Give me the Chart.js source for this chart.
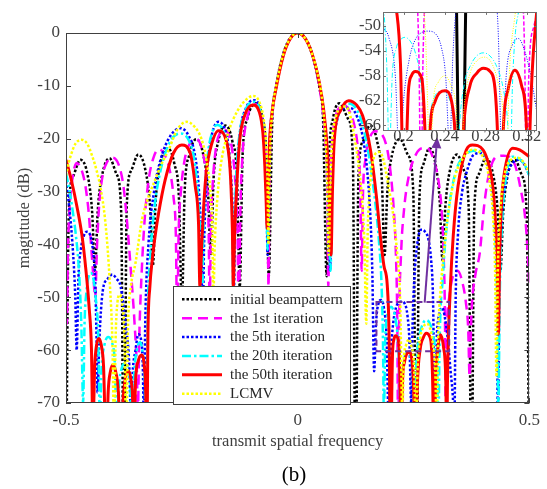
<!DOCTYPE html>
<html><head><meta charset="utf-8">
<script src="https://cdn.jsdelivr.net/npm/chart.js@4.4.0/dist/chart.umd.min.js"></script>
<style>
html,body{margin:0;padding:0;background:#fff;}
#wrap{position:relative;width:547px;height:489px;overflow:hidden;}
#main{position:absolute;left:0;top:0;width:547px;height:489px;}
#inset{position:absolute;left:320px;top:0;width:227px;height:160px;}
</style></head><body>
<div id="wrap">
<canvas id="main" width="547" height="489"></canvas>
<canvas id="inset" width="227" height="160"></canvas>
</div>
<script>
// ---------------- data (x = transmit spatial frequency, y = dB) ----------------
const seriesNames = ["initial beampattern","the 1st iteration","the 5th iteration","the 20th iteration","the 50th iteration","LCMV"];
const xTicks = [-0.5, 0, 0.5];
const yTicks = [0, -10, -20, -30, -40, -50, -60, -70];
const insetXTicks = [0.2, 0.24, 0.28, 0.32];
const insetYTicks = [-50, -54, -58, -62, -66];
const zoomBoxX = [0.170, 0.327];
const zoomBoxY = [-50.9, -60.2];
const arrowFrom = [0.274, -51.0];
const arrowTo = [0.301, -19.7];

const initialPattern = [
[-0.5,-90],[-0.494,-34],[-0.484,-27],[-0.469,-24],[-0.453,-27],[-0.4435,-34],
[-0.4375,-45],[-0.4315,-33.7],[-0.4215,-26.7],[-0.406,-23.7],[-0.391,-26.7],[-0.381,-33.7],
[-0.375,-90],[-0.369,-33],[-0.359,-26],[-0.344,-23],[-0.3285,-26],[-0.3185,-33],
[-0.3125,-44],[-0.3065,-31.8],[-0.2965,-24.8],[-0.281,-21.8],[-0.266,-24.8],[-0.256,-31.8],
[-0.25,-52],[-0.244,-30.1],[-0.234,-23.1],[-0.219,-20.1],[-0.2035,-23.1],[-0.1935,-30.1],
[-0.1875,-42],[-0.1815,-27.5],[-0.1715,-20.5],[-0.156,-17.5],[-0.141,-20.5],[-0.131,-27.5],
[-0.125,-48],[-0.119,-23.3],[-0.109,-16.3],[-0.09,-13.3],[-0.076,-16.3],[-0.068,-23.3],
[-0.0625,-46],[-0.055,-17],[-0.047,-10.4],[-0.031,-3.9],[-0.016,-0.9],[0,0],[0.016,-0.9],[0.031,-3.9],[0.047,-10.4],[0.055,-17],
[0.0625,-46],[0.068,-23.3],[0.076,-16.3],[0.09,-13.3],[0.109,-16.3],[0.119,-23.3],
[0.125,-90],[0.131,-27.5],[0.141,-20.5],[0.156,-17.5],[0.1715,-20.5],[0.1815,-27.5],
[0.1875,-42],[0.1935,-30.1],[0.2035,-23.1],[0.221,-20.1],[0.238,-23.1],[0.2495,-30.1],
[0.256,-90],[0.2625,-31.8],[0.2715,-24.8],[0.284,-21.8],[0.2975,-24.8],[0.3065,-31.8],
[0.3125,-43],[0.3185,-33],[0.3285,-26],[0.344,-23],[0.359,-26],[0.369,-33],
[0.375,-90],[0.381,-33.7],[0.391,-26.7],[0.406,-23.7],[0.4215,-26.7],[0.4315,-33.7],
[0.4375,-45],[0.4435,-34],[0.453,-27],[0.469,-24],[0.484,-27],[0.494,-34],[0.5,-90]
];

const firstIter = [
[-0.5,-42],[-0.498,-55],[-0.496,-42],[-0.492,-33],[-0.486,-27.5],[-0.477,-24.6],[-0.466,-26],[-0.458,-29],[-0.451,-34],[-0.446,-40],[-0.441,-46],[-0.437,-50],
[-0.433,-40],[-0.428,-32],[-0.421,-27],[-0.412,-24.5],[-0.400,-23.6],[-0.386,-25],[-0.376,-29],[-0.368,-36],[-0.360,-45],[-0.352,-55],[-0.347,-64],[-0.345,-72],
[-0.342,-58],[-0.336,-44],[-0.330,-35],[-0.322,-28],[-0.312,-23.8],[-0.300,-22],[-0.287,-23],[-0.276,-26],[-0.268,-31],[-0.263,-38],[-0.260,-55],
[-0.257,-38],[-0.252,-30],[-0.244,-24],[-0.232,-20.8],[-0.220,-20],[-0.208,-21.5],[-0.200,-25],[-0.195,-30],[-0.192,-38],[-0.190,-52],
[-0.187,-36],[-0.183,-28],[-0.176,-21.5],[-0.167,-18.8],[-0.158,-18.3],[-0.148,-19.5],[-0.140,-23],[-0.134,-29],[-0.130,-37],[-0.127,-55],
[-0.124,-35],[-0.119,-23],[-0.110,-16.5],[-0.098,-13.8],[-0.090,-13.5],[-0.081,-14.8],[-0.073,-18.5],[-0.068,-24],[-0.065,-32],[-0.063,-48],
[-0.061,-28],[-0.058,-19.5],[-0.054,-14.5],[-0.046,-10],[-0.031,-4.1],[-0.016,-1],[0,0],[0.016,-1],[0.031,-4],[0.046,-9.8],[0.055,-15.5],[0.060,-21],[0.064,-30],[0.066,-48],
[0.069,-30],[0.074,-21],[0.082,-15.8],[0.093,-13.8],[0.100,-13.6],[0.110,-14.5],[0.121,-17],[0.130,-22],[0.135,-29],[0.138,-45],
[0.141,-30],[0.146,-24],[0.155,-20],[0.168,-18.6],[0.180,-19],[0.192,-21.5],[0.200,-26],[0.207,-33],[0.212,-42],[0.215,-55],[0.217,-80],
[0.219,-55],[0.223,-42],[0.230,-33],[0.240,-27],[0.255,-23],[0.270,-21.8],[0.283,-22],[0.295,-24.5],[0.304,-28],[0.311,-34],[0.315,-42],[0.318,-55],[0.320,-80],
[0.322,-58],[0.327,-50],[0.335,-46],[0.345,-45],[0.355,-47],[0.363,-51],[0.368,-56],[0.371,-65],
[0.375,-53],[0.383,-46],[0.393,-41.6],[0.402,-33],[0.412,-27],[0.429,-23.4],[0.445,-23.2],[0.464,-24],[0.480,-29],[0.493,-37],[0.5,-48]
];

const fifthIter = [
[-0.5,-28],[-0.493,-33],[-0.486,-40],[-0.480,-50],[-0.477,-60],
[-0.473,-46],[-0.468,-41],[-0.462,-38.5],[-0.455,-37.6],[-0.448,-38.2],[-0.442,-41],[-0.437,-47],[-0.434,-58],[-0.432,-68],
[-0.428,-58],[-0.421,-49],[-0.410,-46.5],[-0.400,-45.7],[-0.391,-46.5],[-0.382,-48],[-0.371,-55.5],[-0.364,-61.8],[-0.360,-72],
[-0.356,-64],[-0.350,-60],[-0.344,-57],[-0.338,-58],[-0.334,-64],[-0.332,-75],
[-0.329,-55],[-0.322,-40],[-0.310,-30],[-0.296,-24],[-0.275,-19.5],[-0.253,-18],[-0.235,-19.5],[-0.222,-23],[-0.213,-30],[-0.208,-40],[-0.205,-55],
[-0.202,-40],[-0.198,-30],[-0.192,-23],[-0.184,-18.8],[-0.171,-16.8],[-0.158,-18],[-0.150,-21],[-0.144,-27],[-0.140,-36],[-0.138,-50],
[-0.135,-36],[-0.131,-26],[-0.124,-18.5],[-0.113,-14.5],[-0.096,-12.7],[-0.082,-14],[-0.074,-18],[-0.070,-24],[-0.067,-32],[-0.065,-42],
[-0.063,-30],[-0.060,-20],[-0.055,-14.8],[-0.046,-9.8],[-0.031,-4],[-0.016,-1],[0,0],[0.016,-1],[0.031,-4],[0.047,-9.8],[0.056,-15],[0.062,-21],[0.066,-30],[0.070,-45],
[0.073,-32],[0.077,-22],[0.085,-16.5],[0.097,-14.3],[0.114,-14.2],[0.128,-15.8],[0.140,-19.5],[0.150,-26],[0.157,-35],[0.161,-45],[0.165,-64],
[0.169,-55],[0.175,-51],[0.180,-50.5],[0.186,-52],[0.192,-58],[0.196,-72],
[0.200,-62],[0.206,-55],[0.212,-52],[0.218,-51],[0.224,-50.8],[0.231,-51.2],[0.237,-53.5],[0.241,-58],[0.245,-70],
[0.248,-55],[0.252,-46],[0.258,-40],[0.266,-37.2],[0.274,-37.5],[0.282,-39],[0.288,-43],[0.292,-50],[0.296,-72],
[0.300,-58],[0.306,-53],[0.312,-52],[0.318,-54],[0.324,-58],[0.330,-64],[0.335,-69],[0.338,-75],
[0.341,-50],[0.346,-38],[0.355,-30],[0.364,-26.5],[0.380,-23],[0.395,-22.7],[0.408,-24.5],[0.418,-29],[0.425,-37],[0.430,-50],[0.432,-75],
[0.435,-50],[0.440,-36],[0.450,-28],[0.465,-24.5],[0.478,-24],[0.490,-25],[0.5,-27]
];

const twentiethIter = [
[-0.5,-26.5],[-0.492,-30],[-0.485,-34],[-0.479,-38],[-0.472,-45],[-0.467,-55],[-0.463,-70],
[-0.460,-55],[-0.456,-49],[-0.451,-46],[-0.446,-45.4],[-0.441,-46.5],[-0.436,-50],[-0.431,-56],[-0.427,-72],
[-0.423,-63],[-0.417,-59],[-0.409,-57.5],[-0.401,-58.5],[-0.395,-62],[-0.390,-75],
[-0.386,-67],[-0.380,-63.5],[-0.373,-62.5],[-0.366,-63.5],[-0.361,-67],[-0.357,-78],
[-0.353,-65],[-0.347,-60],[-0.340,-58.5],[-0.334,-61],[-0.330,-66],[-0.327,-80],
[-0.324,-55],[-0.318,-42],[-0.309,-33],[-0.296,-26],[-0.275,-20.5],[-0.252,-19],[-0.234,-20.5],[-0.223,-24],[-0.215,-31],[-0.210,-40],[-0.207,-58],
[-0.204,-40],[-0.200,-30],[-0.194,-23],[-0.186,-19.2],[-0.174,-17.4],[-0.160,-18.5],[-0.151,-21.5],[-0.145,-27],[-0.141,-36],[-0.139,-50],
[-0.136,-36],[-0.132,-26],[-0.125,-18.8],[-0.114,-14.8],[-0.096,-13],[-0.082,-14.3],[-0.074,-18.5],[-0.070,-25],[-0.067,-33],[-0.065,-41],
[-0.063,-30],[-0.060,-20.5],[-0.055,-15],[-0.046,-10],[-0.031,-4.1],[-0.016,-1],[0,0],[0.016,-1],[0.031,-4],[0.047,-9.6],[0.056,-14.8],[0.062,-21],[0.067,-31],[0.071,-45],
[0.074,-31],[0.078,-21],[0.088,-15.5],[0.100,-13.8],[0.113,-13.4],[0.128,-14.6],[0.142,-18],[0.155,-24],[0.166,-31],[0.175,-39],[0.181,-47.7],[0.184,-58],[0.186,-72],
[0.189,-58],[0.193,-53.5],[0.197,-52.2],[0.2014,-51.8],[0.206,-52.3],[0.211,-54],[0.216,-58],[0.220,-66],[0.222,-76],
[0.225,-66],[0.230,-61.5],[0.237,-60.5],[0.244,-61.5],[0.249,-66],[0.2518,-76],
[0.2545,-66],[0.2595,-59],[0.2647,-56.5],[0.2712,-54.8],[0.2777,-54.3],[0.2842,-54.8],[0.2907,-56.5],[0.297,-60],[0.3015,-66],[0.3037,-76],
[0.306,-60],[0.309,-51],[0.312,-47.7],[0.318,-40],[0.328,-32],[0.342,-26],[0.360,-23.2],[0.380,-22.3],[0.396,-22.4],[0.410,-24.5],[0.420,-29],[0.427,-40],[0.431,-55],[0.433,-72],
[0.436,-50],[0.441,-36],[0.450,-27],[0.464,-23.4],[0.478,-23.8],[0.490,-25],[0.5,-27]
];

const fiftiethIter = [
[-0.5,-24],[-0.488,-28],[-0.476,-33],[-0.466,-38],[-0.458,-44],[-0.450,-52],[-0.445,-60],[-0.442,-75],
[-0.438,-63],[-0.434,-59],[-0.429,-57.8],[-0.424,-59],[-0.419,-63],[-0.413,-80],
[-0.409,-68],[-0.404,-64],[-0.399,-62.8],[-0.393,-64],[-0.387,-68],[-0.381,-82],
[-0.377,-70],[-0.371,-65],[-0.365,-64],[-0.360,-65.5],[-0.356,-70],[-0.354,-80],
[-0.350,-66],[-0.344,-62],[-0.337,-60.9],[-0.331,-63],[-0.328,-68],[-0.326,-82],
[-0.323,-56],[-0.319,-48],[-0.314,-43],[-0.307,-38],[-0.300,-34],[-0.286,-27.8],[-0.268,-22.7],[-0.250,-21.2],[-0.232,-22.7],[-0.221,-29],[-0.214,-36],[-0.211,-48],
[-0.207,-40],[-0.203,-33],[-0.197,-26],[-0.189,-22.1],[-0.171,-18.5],[-0.157,-19.6],[-0.148,-23.5],[-0.144,-29],[-0.141,-37],[-0.139,-48],
[-0.136,-38],[-0.132,-29.7],[-0.125,-20.2],[-0.114,-15.5],[-0.097,-13.6],[-0.083,-14.9],[-0.075,-19],[-0.071,-25],[-0.068,-32],[-0.066,-37],
[-0.064,-30],[-0.061,-21],[-0.056,-15.5],[-0.046,-10.2],[-0.031,-4.3],[-0.016,-1.1],[0,0],[0.016,-1],[0.031,-3.9],[0.047,-9.5],[0.056,-14.5],[0.063,-21],[0.068,-30],[0.072,-42],
[0.075,-30],[0.079,-20.2],[0.093,-14.6],[0.110,-12.8],[0.127,-13.6],[0.140,-15.6],[0.157,-22.1],[0.170,-31],[0.179,-39],[0.186,-44],[0.1933,-47.7],[0.197,-56],[0.2005,-80],
[0.2047,-60.6],[0.2079,-57.9],[0.2115,-57.3],[0.2177,-58.4],[0.2209,-67],[0.2232,-82],
[0.2258,-67],[0.2306,-62.2],[0.2404,-60.4],[0.2469,-62.2],[0.2501,-67],[0.254,-85],
[0.2582,-67],[0.2647,-59.6],[0.2712,-57.6],[0.2777,-56.8],[0.2842,-57.3],[0.2891,-60.1],[0.2915,-67],[0.2945,-85],
[0.2971,-67],[0.302,-60.1],[0.3085,-57.1],[0.315,-59.6],[0.3199,-67],[0.3215,-82],
[0.3231,-67],[0.3297,-47.7],[0.336,-38],[0.346,-29],[0.364,-22.1],[0.377,-21.2],[0.400,-22.1],[0.414,-25.5],[0.421,-29],[0.427,-36],[0.431,-45],[0.433,-57],
[0.436,-42],[0.440,-32],[0.446,-26.5],[0.464,-21.8],[0.479,-22.1],[0.5,-23.4]
];

const lcmvPattern = [
[-0.5,-27],[-0.494,-24.5],[-0.489,-23],[-0.480,-21],[-0.466,-20.2],[-0.454,-21],[-0.443,-23.4],[-0.434,-26],[-0.425,-29.5],[-0.416,-35],[-0.410,-41],[-0.405,-48],[-0.400,-58],[-0.396,-75],
[-0.393,-58],[-0.389,-51],[-0.384,-49.5],[-0.379,-51],[-0.374,-57],[-0.370,-75],
[-0.366,-55],[-0.360,-48],[-0.350,-43.5],[-0.336,-35.3],[-0.320,-30.5],[-0.311,-28.5],[-0.295,-25],[-0.279,-22.2],[-0.260,-18.3],[-0.240,-16.8],[-0.222,-17.8],[-0.207,-20.2],[-0.196,-24.5],[-0.188,-30.5],[-0.184,-38],[-0.182,-50],
[-0.179,-40],[-0.174,-32],[-0.166,-25],[-0.150,-18.9],[-0.129,-14.6],[-0.110,-12.5],[-0.096,-11.9],[-0.083,-13],[-0.073,-16.5],[-0.068,-21],[-0.065,-28],[-0.063,-40],
[-0.061,-28],[-0.058,-19],[-0.053,-13.5],[-0.045,-9.3],[-0.031,-4],[-0.016,-1],[0,0],[0.016,-1],[0.031,-3.9],[0.046,-9],[0.054,-13.5],[0.060,-20],[0.064,-29],[0.067,-42],
[0.070,-30],[0.074,-21],[0.082,-16],[0.093,-14.1],[0.104,-13.9],[0.113,-15.5],[0.121,-19],[0.130,-24],[0.138,-30.5],[0.144,-40],[0.148,-55],
[0.151,-38],[0.155,-30],[0.161,-25],[0.168,-22.8],[0.176,-22.5],[0.185,-24],[0.196,-29],[0.207,-35],[0.215,-42],[0.221,-50],[0.226,-72],
[0.229,-62],[0.234,-59],[0.240,-58],[0.246,-59.5],[0.251,-63],[0.255,-75],
[0.259,-63],[0.265,-57.5],[0.272,-55.5],[0.279,-55],[0.286,-56],[0.292,-59],[0.297,-64],[0.300,-75],
[0.303,-58],[0.308,-49],[0.315,-42],[0.325,-34],[0.340,-27],[0.358,-23.5],[0.377,-22.1],[0.393,-22.6],[0.405,-24.5],[0.414,-28],[0.421,-34],[0.426,-45],[0.429,-65],
[0.432,-45],[0.437,-34],[0.446,-27],[0.460,-24],[0.474,-23.6],[0.488,-24.5],[0.5,-26.5]
];

const allSeries = [initialPattern, firstIter, fifthIter, twentiethIter, fiftiethIter, lcmvPattern];

// ---------------- styles ----------------
const FONT = '"Liberation Serif", "Times New Roman", serif';
const mainStyles = [
  {color:'#000000', width:2.5, dash:[2.5,2]},
  {color:'#ff00ff', width:2.5, dash:[10,6]},
  {color:'#0000ff', width:2.5, dash:[2.5,2]},
  {color:'#00ffff', width:2.5, dash:[9,3,2.5,3]},
  {color:'#ff0000', width:3, dash:[]},
  {color:'#ffff00', width:2.5, dash:[2.5,2]}
];
const insetStyles = [
  {color:'#000000', width:3, dash:[]},
  {color:'#ff00ff', width:1.5, dash:[4,2]},
  {color:'#0000ff', width:1, dash:[1,1.5]},
  {color:'#00ffff', width:1, dash:[5,2,1,2]},
  {color:'#ff0000', width:3, dash:[]},
  {color:'#ffff00', width:1, dash:[1,1.5]}
];

function makeDatasets(styles){
  return allSeries.map((arr,i)=>({
    label: seriesNames[i],
    data: arr.map(p=>({x:p[0], y:p[1]})),
    borderColor: styles[i].color,
    borderWidth: styles[i].width,
    borderDash: styles[i].dash,
    borderCapStyle: 'butt',
    pointRadius: 0,
    fill: false,
    cubicInterpolationMode: 'monotone',
    clip: 0,
    order: allSeries.length - i
  }));
}

function boxAndTicks(chart, color, tl){
  const {ctx, chartArea:a, scales:{x,y}} = chart;
  ctx.save();
  ctx.setLineDash([]);
  ctx.strokeStyle = color; ctx.lineWidth = 1;
  ctx.beginPath();
  x.ticks.forEach(t=>{
    const px = Math.round(x.getPixelForValue(t.value))+0.5;
    ctx.moveTo(px, a.bottom); ctx.lineTo(px, a.bottom-tl);
    ctx.moveTo(px, a.top); ctx.lineTo(px, a.top+tl);
  });
  y.ticks.forEach(t=>{
    const py = Math.round(y.getPixelForValue(t.value))+0.5;
    ctx.moveTo(a.left, py); ctx.lineTo(a.left+tl, py);
    ctx.moveTo(a.right, py); ctx.lineTo(a.right-tl, py);
  });
  ctx.stroke();
  ctx.strokeRect(Math.round(a.left)+0.5, Math.round(a.top)+0.5, Math.round(a.right-a.left)-1, Math.round(a.bottom-a.top)-1);
  ctx.restore();
}

const mainDecor = {
  id:'mainDecor',
  afterDraw(chart){
    const {ctx, scales:{x,y}} = chart;
    ctx.save();
    ctx.strokeStyle = '#7030a0'; ctx.lineWidth = 2; ctx.setLineDash([6,4]);
    const rx1 = x.getPixelForValue(zoomBoxX[0]), rx2 = x.getPixelForValue(zoomBoxX[1]);
    const ry1 = y.getPixelForValue(zoomBoxY[0]), ry2 = y.getPixelForValue(zoomBoxY[1]);
    ctx.strokeRect(rx1, ry1, rx2-rx1, ry2-ry1);
    ctx.setLineDash([]);
    const ax1 = x.getPixelForValue(arrowFrom[0]), ay1 = y.getPixelForValue(arrowFrom[1]);
    const ax2 = x.getPixelForValue(arrowTo[0]), ay2 = y.getPixelForValue(arrowTo[1]);
    const ang = Math.atan2(ay2-ay1, ax2-ax1);
    const hl = 11, hw = 5;
    const bx = ax2 - hl*Math.cos(ang), by = ay2 - hl*Math.sin(ang);
    ctx.beginPath(); ctx.moveTo(ax1, ay1); ctx.lineTo(bx, by); ctx.stroke();
    ctx.fillStyle = '#7030a0';
    ctx.beginPath();
    ctx.moveTo(ax2, ay2);
    ctx.lineTo(bx + hw*Math.sin(ang), by - hw*Math.cos(ang));
    ctx.lineTo(bx - hw*Math.sin(ang), by + hw*Math.cos(ang));
    ctx.closePath(); ctx.fill();
    ctx.restore();

    boxAndTicks(chart, '#404040', 5);

    ctx.save();
    const L = {x:173.5, y:286.5, w:177, h:118};
    ctx.fillStyle = '#ffffff';
    ctx.fillRect(L.x, L.y, L.w, L.h);
    ctx.strokeStyle = '#404040'; ctx.lineWidth = 1;
    ctx.strokeRect(L.x, L.y, L.w, L.h);
    ctx.font = '15px ' + FONT;
    ctx.textBaseline = 'middle'; ctx.textAlign = 'left';
    seriesNames.forEach((name,i)=>{
      const ry = 299.3 + i*18.87;
      const st = mainStyles[i];
      ctx.strokeStyle = st.color; ctx.lineWidth = st.width; ctx.setLineDash(st.dash); ctx.lineCap='butt';
      ctx.beginPath(); ctx.moveTo(182, ry); ctx.lineTo(222, ry); ctx.stroke();
      ctx.fillStyle = '#262626';
      ctx.fillText(name, 230, ry+0.5);
    });
    ctx.setLineDash([]);
    ctx.font = '21px ' + FONT;
    ctx.fillStyle = '#000000'; ctx.textAlign = 'center';
    ctx.fillText('(b)', 294, 475);
    ctx.restore();
  }
};

const tickFont = {family: FONT, size: 17};
const titleFont = {family: FONT, size: 16.5};

new Chart(document.getElementById('main'), {
  type:'line',
  data:{datasets: makeDatasets(mainStyles)},
  options:{
    responsive:false, animation:false, devicePixelRatio:1,
    layout:{padding:{left:0, right:14, top:33, bottom:0}},
    plugins:{legend:{display:false}, tooltip:{enabled:false}},
    scales:{
      x:{type:'linear', min:-0.5, max:0.5,
        afterBuildTicks:s=>{ s.ticks = xTicks.map(v=>({value:v})); },
        afterFit:s=>{ s.height = 86; },
        grid:{display:false, drawTicks:false}, border:{display:false},
        ticks:{font:tickFont, color:'#404040', padding:7, maxRotation:0, autoSkip:false, callback:v=>String(v)},
        title:{display:true, text:'transmit spatial frequency', font:titleFont, color:'#404040', padding:{top:0, bottom:37}}
      },
      y:{type:'linear', min:-70, max:0,
        afterBuildTicks:s=>{ s.ticks = yTicks.map(v=>({value:v})); },
        afterFit:s=>{ s.width = 66; },
        grid:{display:false, drawTicks:false}, border:{display:false},
        ticks:{font:tickFont, color:'#404040', padding:6, autoSkip:false, callback:v=>String(v)},
        title:{display:true, text:'magtitude (dB)', font:titleFont, color:'#404040', padding:{top:15, bottom:0}}
      }
    }
  },
  plugins:[mainDecor]
});

const insetDecor = {
  id:'insetDecor',
  beforeDatasetsDraw(chart){
    const {ctx, chartArea:a} = chart;
    ctx.save(); ctx.fillStyle = '#ffffff';
    ctx.fillRect(a.left, a.top, a.right-a.left, a.bottom-a.top);
    ctx.restore();
  },
  afterDraw(chart){ boxAndTicks(chart, '#707070', 3); }
};

const insetFont = {family: FONT, size: 16.5};
new Chart(document.getElementById('inset'), {
  type:'line',
  data:{datasets: makeDatasets(insetStyles)},
  options:{
    responsive:false, animation:false, devicePixelRatio:1,
    layout:{padding:{left:0, right:10, top:5, bottom:0}},
    plugins:{legend:{display:false}, tooltip:{enabled:false}},
    scales:{
      x:{type:'linear', min:0.18, max:0.33,
        afterBuildTicks:s=>{ s.ticks = insetXTicks.map(v=>({value:v})); },
        afterFit:s=>{ s.height = 29; },
        grid:{display:false, drawTicks:false}, border:{display:false},
        ticks:{font:insetFont, color:'#404040', padding:-4, maxRotation:0, autoSkip:false, callback:v=>String(v)}
      },
      y:{type:'linear', min:-66.9, max:-47.7,
        afterBuildTicks:s=>{ s.ticks = insetYTicks.map(v=>({value:v})); },
        afterFit:s=>{ s.width = 63; },
        grid:{display:false, drawTicks:false}, border:{display:false},
        ticks:{font:insetFont, color:'#404040', padding:2, autoSkip:false, callback:v=>String(v)}
      }
    }
  },
  plugins:[insetDecor]
});
</script>
</body></html>
